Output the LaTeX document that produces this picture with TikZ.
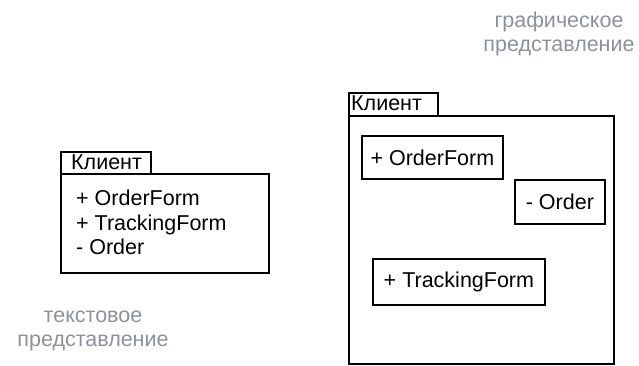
\documentclass[tikz,border=0pt]{standalone}
\usepackage{fontspec}
\setmainfont{Liberation Sans}
\definecolor{labelgray}{HTML}{8C919C}
\begin{document}
\begin{tikzpicture}[x=1pt,y=-1pt,
  box/.style={draw,line width=1.8pt,inner sep=0pt,anchor=north west},
  txt/.style={font=\fontsize{21.5}{24.5}\selectfont},
  lbl/.style={font=\fontsize{21.5}{24.5}\selectfont,text=labelgray,align=center}]
\useasboundingbox (0,0) rectangle (639,365);
% left package (text form)
\node[box,minimum width=90pt,minimum height=22pt] (ltab) at (60,151) {};
\node[box,minimum width=208pt,minimum height=99pt] (lbody) at (60,173) {};
\node[txt,anchor=west,inner sep=0pt] (ltabtxt) at (71,162) {Клиент};
\node[txt,anchor=west,align=left,inner sep=0pt] (ltext) at (76,222.5)
  {+ OrderForm\\+ TrackingForm\\- Order};
% right package (graphic form)
\node[box,minimum width=89pt,minimum height=23pt] (rtab) at (348,92) {};
\node[box,minimum width=265pt,minimum height=248pt] (rbody) at (348,115) {};
\node[txt,anchor=west,inner sep=0pt] (rtabtxt) at (351,103) {Клиент};
\node[box,txt,minimum width=141pt,minimum height=43pt] (of) at (361,135) {+ OrderForm};
\node[box,txt,minimum width=90pt,minimum height=44pt] (ord) at (514,179) {- Order};
\node[box,txt,minimum width=172pt,minimum height=46pt] (tf) at (372,258) {+ TrackingForm};
% labels
\node[lbl] (textlbl) at (93,331) {текстовое\\представление};
\node[lbl] (graflbl) at (559,34) {графическое\\представление};
\end{tikzpicture}
\end{document}
